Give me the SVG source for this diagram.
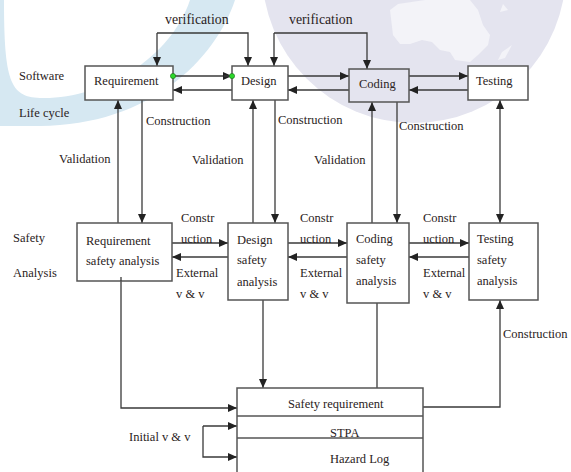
<svg xmlns="http://www.w3.org/2000/svg" width="571" height="472" viewBox="0 0 571 472" font-family="'Liberation Serif', 'Times New Roman', serif">
<defs>
<style>
text{font-family:"Liberation Serif","Times New Roman",serif;font-size:12.5px;fill:#2a2222}
.v{font-size:13.8px}
.box{fill:#fff;stroke:#555;stroke-width:1.5}
.clear{fill:none;stroke:#555;stroke-width:1.5}
.ln{fill:none;stroke:#3a3a3a;stroke-width:1.3}
.a{marker-end:url(#ah)}
.ab{marker-start:url(#ah);marker-end:url(#ah)}
.dot{fill:#2bd82b;stroke:#1a6a1a;stroke-width:0.6}
</style>
<marker id="ah" markerUnits="userSpaceOnUse" markerWidth="10" markerHeight="10" viewBox="0 0 10 10" refX="9" refY="5" orient="auto-start-reverse">
<path d="M0,1 L9,5 L0,9 Z" fill="#222"/>
</marker>
</defs>
<g id="watermark">
<path d="M235,0 C215,60 150,125 40,126 L0,126 L0,0 L4,0 C4,80 10,97 40,98 C100,100 170,60 190,0 Z" fill="#d6e8f2"/>
<circle cx="414" cy="-29" r="152" fill="#e4e4ef"/>
<path d="M390,10 L398,4 L425,0 L470,0 L478,10 L483,25 L490,35 L488,45 L478,55 L470,62 L455,60 L450,52 L440,50 L432,42 L422,40 L410,44 L400,44 L393,35 Z" fill="#f3f3f8"/>
<path d="M503,4 L508,10 L500,12 Z M512,45 L505,58 L498,60 L502,52 Z" fill="#f3f3f8"/>
</g>
<g id="connectors">
<path class="ln a" d="M157,33 V66"/>
<path class="ln a" d="M157,33 H248 V66"/>
<path class="ln a" d="M274,33 V66"/>
<path class="ln a" d="M274,33 H367 V69"/>
<path class="ln a" d="M173,76 H232"/>
<path class="ln a" d="M232,90 H173"/>
<path class="ln a" d="M288,76 H349"/>
<path class="ln a" d="M349,90 H288"/>
<path class="ln a" d="M409,76 H468"/>
<path class="ln a" d="M468,90 H409"/>
<path class="ln a" d="M118,223 V100"/>
<path class="ln a" d="M142,100 V223"/>
<path class="ln a" d="M253,223 V100"/>
<path class="ln a" d="M275,100 V223"/>
<path class="ln a" d="M372,223 V102"/>
<path class="ln a" d="M397,102 V223"/>
<path class="ln ab" d="M500,100 V223"/>
<path class="ln a" d="M172,243 H228"/>
<path class="ln a" d="M228,257 H172"/>
<path class="ln a" d="M288,243 H347"/>
<path class="ln a" d="M347,257 H288"/>
<path class="ln a" d="M409,243 H469"/>
<path class="ln a" d="M469,257 H409"/>
<path class="ln a" d="M121,277 V408 H237"/>
<path class="ln a" d="M263,300 V388"/>
<path class="ln" d="M377,298 V388"/>
<path class="ln a" d="M423,407 H500 V300"/>
<path class="ln a" d="M203,426 H237"/>
<path class="ln a" d="M203,426 V457 H237"/>
</g>
<g id="labels">
<text class="v" x="165" y="24">verification</text>
<text class="v" x="289" y="24">verification</text>
<text x="19" y="80">Software</text>
<text x="19" y="117">Life cycle</text>
<text x="146" y="125">Construction</text>
<text x="278" y="124">Construction</text>
<text x="399" y="130">Construction</text>
<text x="59" y="163">Validation</text>
<text x="192" y="164">Validation</text>
<text x="314" y="164">Validation</text>
<text x="13" y="242">Safety</text>
<text x="13" y="277">Analysis</text>
<text x="181" y="222">Constr</text>
<text x="181" y="243">uction</text>
<text x="176" y="277">External</text>
<text x="176" y="298">v &amp; v</text>
<text x="300" y="222">Constr</text>
<text x="300" y="243">uction</text>
<text x="300" y="277">External</text>
<text x="300" y="298">v &amp; v</text>
<text x="423" y="222">Constr</text>
<text x="423" y="243">uction</text>
<text x="423" y="277">External</text>
<text x="423" y="298">v &amp; v</text>
<text x="503" y="338">Construction</text>
<text x="129" y="441">Initial v &amp; v</text>
</g>
<g id="requirement">
<rect class="box" x="85" y="66" width="88" height="34"/>
<text x="94" y="85">Requirement</text>
</g>
<g id="design">
<rect class="box" x="232" y="66" width="56" height="34"/>
<text x="241" y="85">Design</text>
</g>
<g id="coding">
<rect class="clear" x="349" y="69" width="60" height="33"/>
<text x="359" y="88">Coding</text>
</g>
<g id="testing">
<rect class="box" x="468" y="66" width="60" height="34"/>
<text x="476" y="85">Testing</text>
</g>
<g id="req-safety">
<rect class="box" x="77" y="223" width="95" height="58"/>
<text x="86" y="245">Requirement</text>
<text x="86" y="265">safety analysis</text>
</g>
<g id="design-safety">
<rect class="box" x="228" y="223" width="60" height="77"/>
<text x="237" y="244">Design</text>
<text x="237" y="264">safety</text>
<text x="237" y="286">analysis</text>
</g>
<g id="coding-safety">
<rect class="box" x="347" y="223" width="62" height="80"/>
<text x="356" y="243">Coding</text>
<text x="356" y="264">safety</text>
<text x="356" y="285">analysis</text>
</g>
<g id="testing-safety">
<rect class="box" x="469" y="223" width="69" height="77"/>
<text x="477" y="243">Testing</text>
<text x="477" y="264">safety</text>
<text x="477" y="285">analysis</text>
</g>
<g id="safety-requirement">
<rect class="box" x="237" y="388" width="186" height="100"/>
<line class="clear" x1="237" y1="416" x2="423" y2="416"/>
<line class="clear" x1="237" y1="438" x2="423" y2="438"/>
<text x="288" y="408">Safety requirement</text>
<text x="330" y="437">STPA</text>
<text x="330" y="463">Hazard Log</text>
</g>
<g id="connector-tips">
<path class="ln" d="M121,281 V277"/>
<path class="ln" d="M224,76 H232"/>
<circle class="dot" cx="173" cy="76" r="2.6"/>
<circle class="dot" cx="232" cy="76" r="2.6"/>
</g>
</svg>
